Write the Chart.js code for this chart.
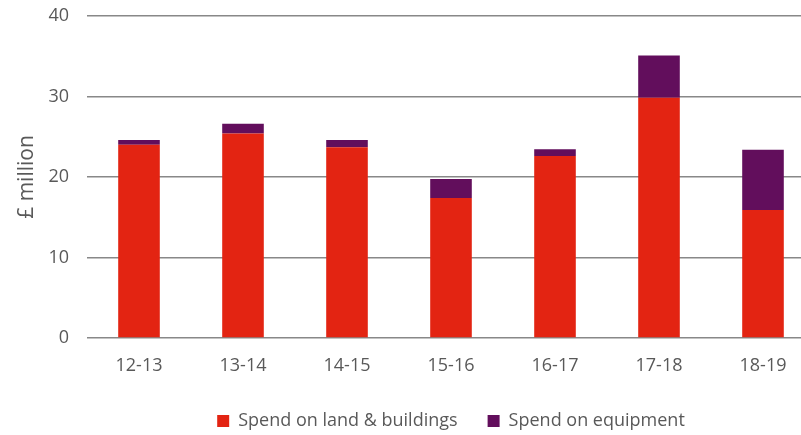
<!DOCTYPE html>
<html>
<head>
<meta charset="utf-8">
<script src="https://cdn.jsdelivr.net/npm/chart.js@4"></script>
<style>
  html, body { margin: 0; padding: 0; background: #fff; overflow: hidden; }
  #wrap { width: 801px; height: 435px; overflow: hidden; }
</style>
</head>
<body>
<div id="wrap"><canvas id="chart" width="815" height="435"></canvas></div>
<script>
// financial years
const years = ["12-13", "13-14", "14-15", "15-16", "16-17", "17-18", "18-19"];
// £ million
const landBuildings = [24.0, 25.4, 23.7, 17.4, 22.6, 29.85, 15.9];
const equipment = [0.6, 1.2, 0.9, 2.35, 0.85, 5.25, 7.5];
const yTicks = [0, 10, 20, 30, 40];

const textGrey = "#595959";
Chart.defaults.font.family = "'Open Sans', 'Liberation Sans', sans-serif";
Chart.defaults.color = textGrey;

new Chart(document.getElementById("chart"), {
  type: "bar",
  data: {
    labels: years,
    datasets: [
      {
        label: "Spend on land & buildings",
        data: landBuildings,
        backgroundColor: "#e32412"
      },
      {
        label: "Spend on equipment",
        data: equipment,
        backgroundColor: "#620e5c"
      }
    ]
  },
  options: {
    responsive: false,
    animation: false,
    layout: { padding: { top: 16, left: 0, right: 0, bottom: -5 } },
    datasets: { bar: { barPercentage: 0.4, categoryPercentage: 1 } },
    plugins: {
      tooltip: { enabled: false },
      legend: {
        position: "bottom",
        fullSize: false,
        labels: {
          boxWidth: 12,
          boxHeight: 12,
          padding: 30,
          color: textGrey,
          font: { size: 18 }
        }
      }
    },
    scales: {
      x: {
        stacked: true,
        grid: { display: false },
        border: { display: false },
        ticks: { color: textGrey, font: { size: 18 }, padding: 9 },
        afterFit: s => { s.height = 44; }
      },
      y: {
        stacked: true,
        min: 0,
        max: 40,
        afterBuildTicks: s => { s.ticks = yTicks.map(v => ({ value: v })); },
        grid: { color: "#888888", lineWidth: 1.6, drawTicks: false },
        border: { display: false },
        ticks: { color: textGrey, font: { size: 18 }, padding: 18 },
        title: {
          display: true,
          text: "£ million",
          color: textGrey,
          font: { size: 21 },
          padding: { top: 14, bottom: 0 }
        },
        afterFit: s => {
          s.width = 87;
          s.paddingTop = 0;
          s.paddingBottom = 0;
        }
      }
    }
  }
});
</script>
</body>
</html>
